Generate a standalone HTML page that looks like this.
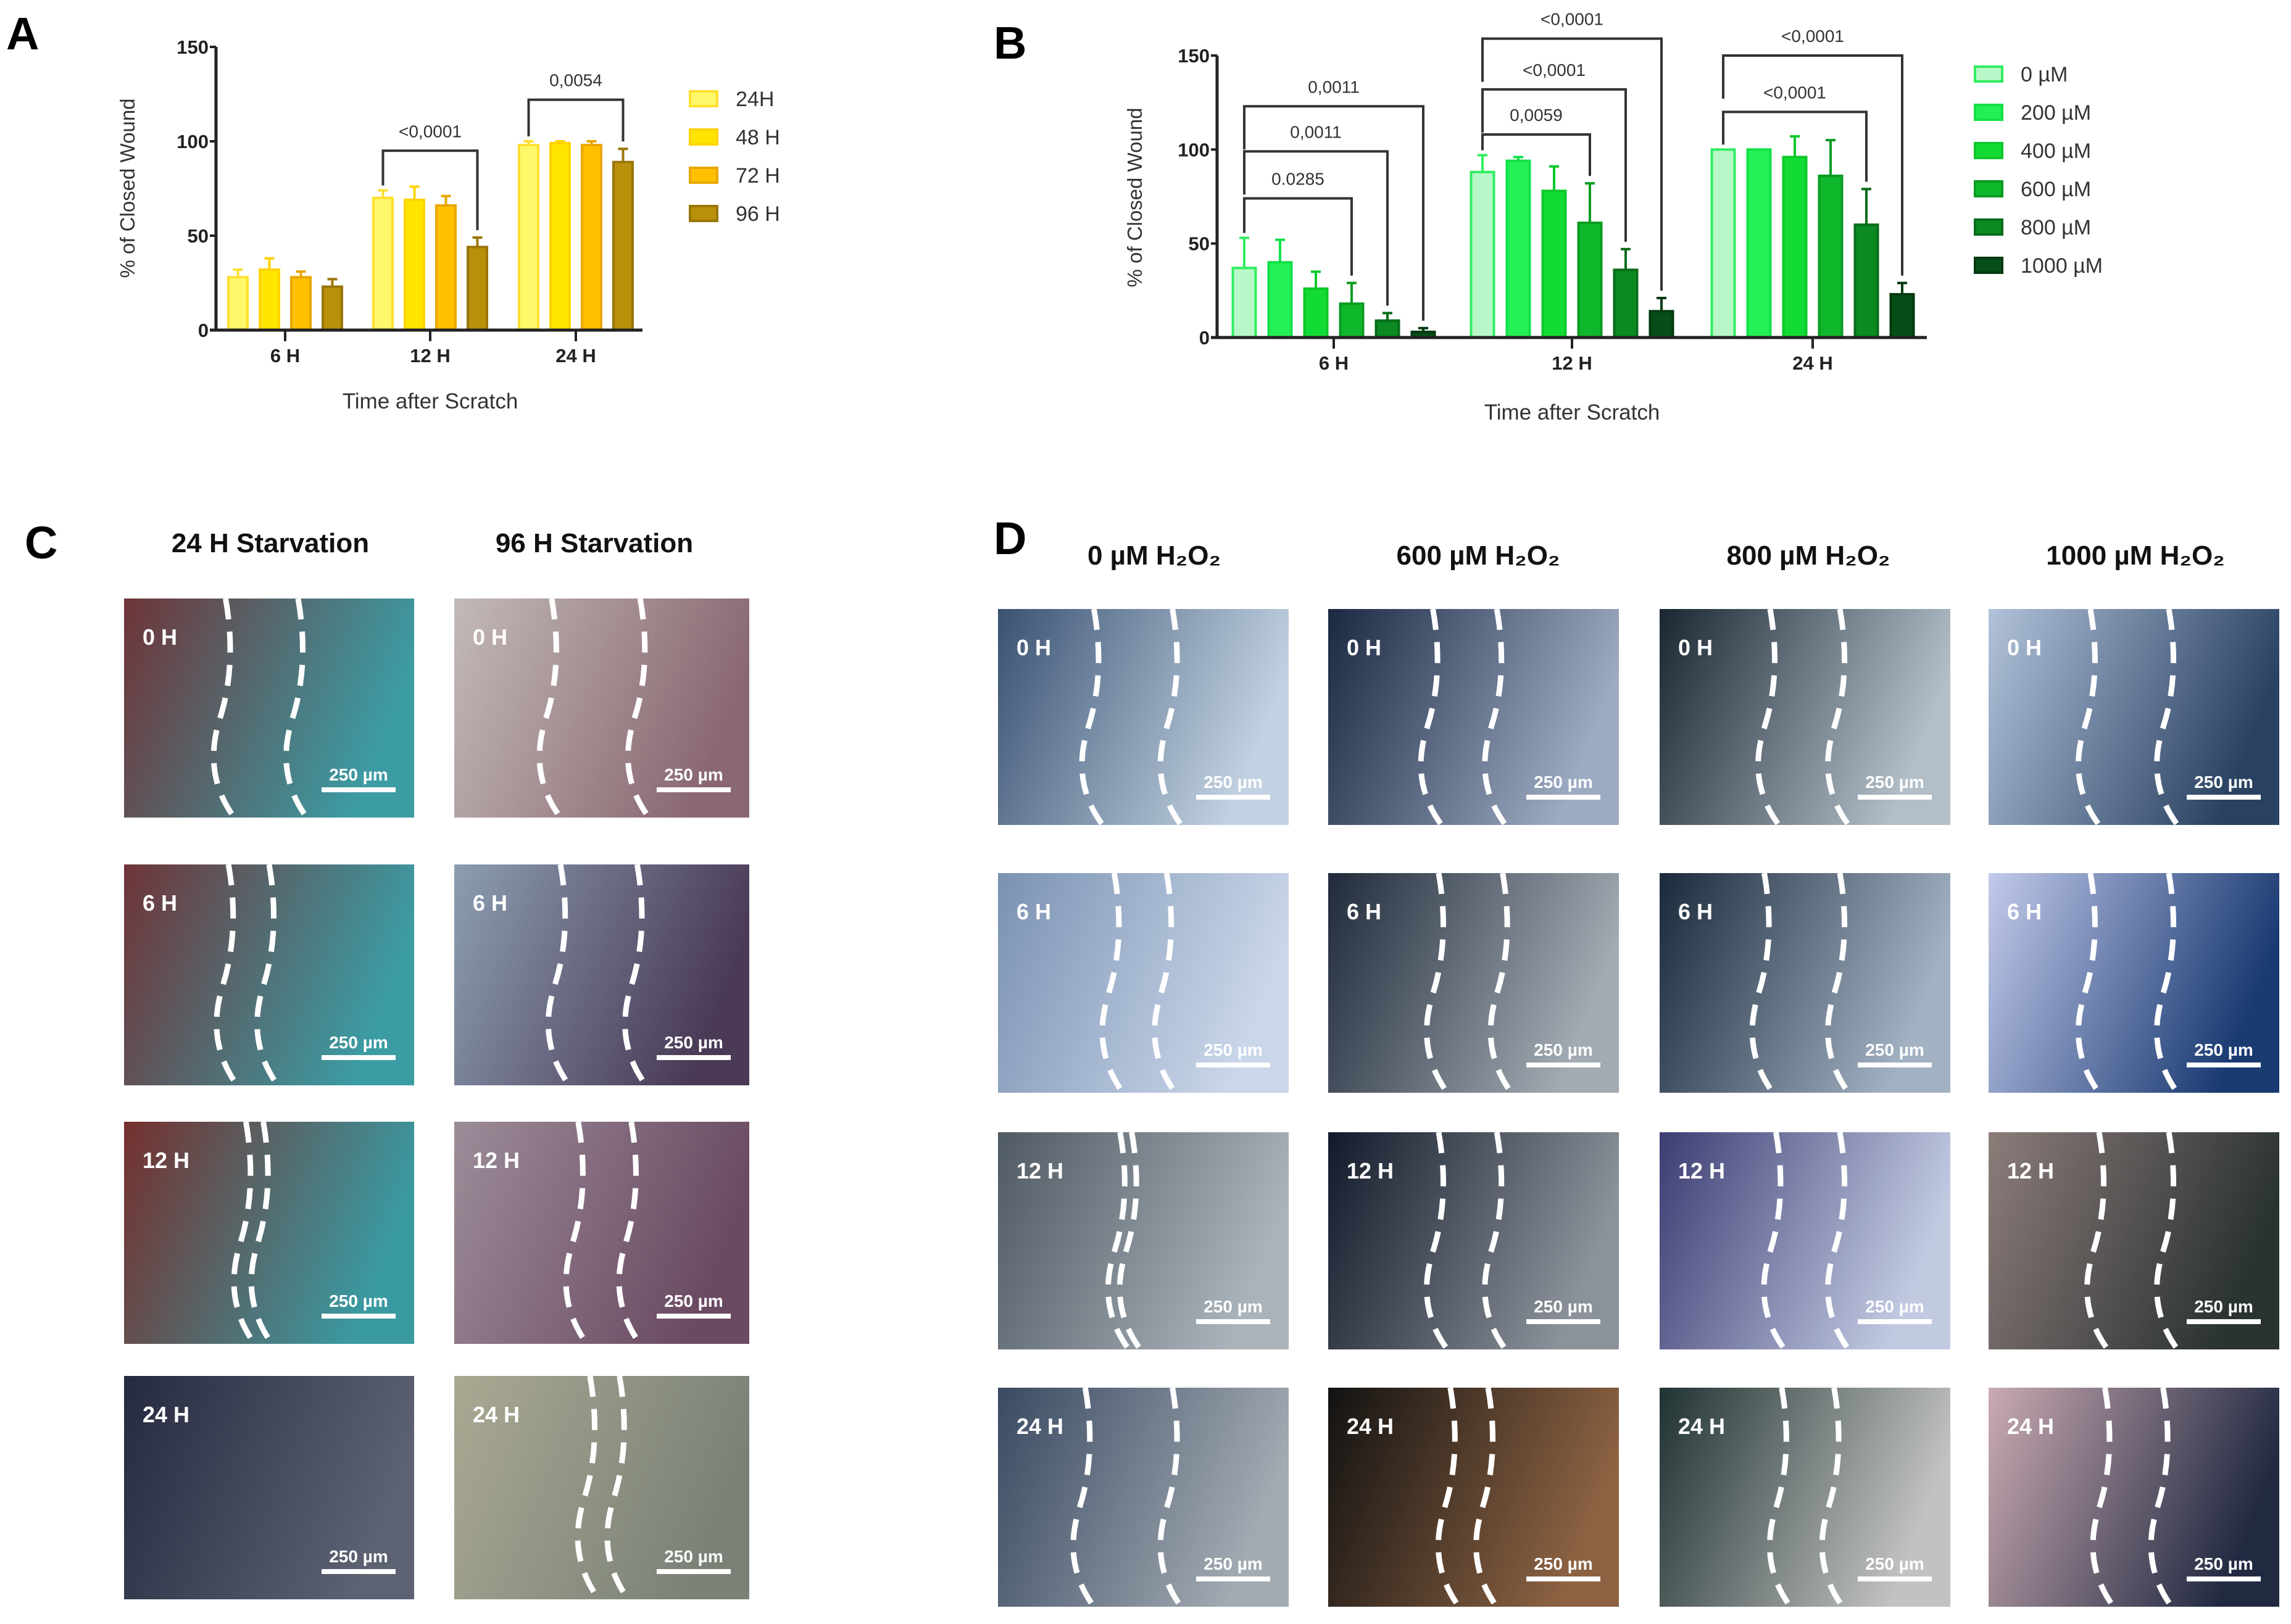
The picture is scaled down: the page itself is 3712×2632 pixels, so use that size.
<!DOCTYPE html>
<html><head><meta charset="utf-8"><style>
html,body{margin:0;padding:0;background:#fff;}
svg{display:block;font-family:"Liberation Sans",Arial,sans-serif;}
</style></head><body>
<svg id="fig" width="3712" height="2632" viewBox="0 0 3712 2632" xmlns="http://www.w3.org/2000/svg">
<rect width="3712" height="2632" fill="#fff"/>
<g id="chartA"></g>
<g id="chartB"></g>
<g id="panels"></g>
</svg>
<script>
const NS="http://www.w3.org/2000/svg";
function mk(parent,tag,attrs,text){const e=document.createElementNS(NS,tag);for(const k in attrs)e.setAttribute(k,attrs[k]);if(text!==undefined)e.textContent=text;parent.appendChild(e);return e;}

// ---------- Chart A data ----------
const catsA=["6 H","12 H","24 H"];
const seriesA=["24H","48 H","72 H","96 H"];
const valsA24=[28,70,98];
const valsA48=[32,69,99];
const valsA72=[28,66,98];
const valsA96=[23,44,89];
const errA24=[4,4,2];
const errA48=[6,7,1];
const errA72=[3,5,2];
const errA96=[4,5,7];
const ticksA=[0,50,100,150];
const sigA=[{g:1,from:0,to:3,level:95,label:"<0,0001"},{g:2,from:0,to:3,level:122,label:"0,0054"}];

// ---------- Chart B data ----------
const catsB=["6 H","12 H","24 H"];
const seriesB=["0 µM","200 µM","400 µM","600 µM","800 µM","1000 µM"];
const valsB0=[37,88,100];
const valsB200=[40,94,100];
const valsB400=[26,78,96];
const valsB600=[18,61,86];
const valsB800=[9,36,60];
const valsB1000=[3,14,23];
const errB0=[16,9,0];
const errB200=[12,2,0];
const errB400=[9,13,11];
const errB600=[11,21,19];
const errB800=[4,11,19];
const errB1000=[2,7,6];
const ticksB=[0,50,100,150];
const sigB=[
 {g:0,from:0,to:3,level:74,label:"0.0285"},{g:0,from:0,to:4,level:99,label:"0,0011"},{g:0,from:0,to:5,level:123,label:"0,0011"},
 {g:1,from:0,to:3,level:108,label:"0,0059"},{g:1,from:0,to:4,level:132,label:"<0,0001"},{g:1,from:0,to:5,level:159,label:"<0,0001"},
 {g:2,from:0,to:4,level:120,label:"<0,0001"},{g:2,from:0,to:5,level:150,label:"<0,0001"}];

function drawChart(g,cfg){
  const y=v=>cfg.y0-(v/150)*(cfg.y0-cfg.y150);
  const bx=(gi,si)=>cfg.centers[gi]+(si-(cfg.vals.length-1)/2)*cfg.step;
  cfg.vals.forEach((arr,si)=>{arr.forEach((v,gi)=>{
    const x=bx(gi,si);
    const r=mk(g,"rect",{x:x-cfg.bw/2,y:y(v),width:cfg.bw,height:cfg.y0-y(v),fill:cfg.fills[si],stroke:cfg.strokes[si],"stroke-width":4});
    
    
    const e=cfg.errs[si][gi];
    if(e>0){
      const l=mk(g,"path",{d:`M${x} ${y(v)} V${y(v+e)} M${x-8} ${y(v+e)} H${x+8}`,stroke:cfg.strokes[si],"stroke-width":4,fill:"none"});
      
      
    }
  });});
  const ax=mk(g,"path",{d:`M${cfg.ax} ${cfg.y150} V${cfg.y0} M${cfg.ax-10} ${cfg.y0} H${cfg.xend}`,stroke:"#222","stroke-width":5,fill:"none"});
  
  cfg.ticks.forEach(t=>{
    mk(g,"line",{x1:cfg.ax-10,x2:cfg.ax,y1:y(t),y2:y(t),stroke:"#222","stroke-width":4});
    const tl=mk(g,"text",{x:cfg.ax-12,y:y(t)+11,"text-anchor":"end","font-size":31,"font-weight":"bold",fill:"#222"},t);
    
  });
  cfg.cats.forEach((c,gi)=>{
    mk(g,"line",{x1:cfg.centers[gi],x2:cfg.centers[gi],y1:cfg.y0,y2:cfg.y0+18,stroke:"#222","stroke-width":4});
    const tl=mk(g,"text",{x:cfg.centers[gi],y:cfg.y0+52,"text-anchor":"middle","font-size":31,"font-weight":"bold",fill:"#222"},c);
    
  });
  const yt=mk(g,"text",{x:0,y:0,transform:`translate(${cfg.ytx},${cfg.yty}) rotate(-90)`,"text-anchor":"middle","font-size":33,fill:"#333"},"% of Closed Wound");
  
  const xt=mk(g,"text",{x:cfg.xtx,y:cfg.xty,"text-anchor":"middle","font-size":35,fill:"#333"},"Time after Scratch");
  
  cfg.sig.forEach(s=>{
    const x1=bx(s.g,s.from),x2=bx(s.g,s.to);
    const topY=y(s.level);
    const v1=cfg.vals[s.from][s.g]+cfg.errs[s.from][s.g],v2=cfg.vals[s.to][s.g]+cfg.errs[s.to][s.g];
    const yl=Math.min(topY+70,y(v1)-8), yr=y(v2)-12;
    const p=mk(g,"path",{d:`M${x1} ${yl} V${topY} H${x2} V${yr}`,stroke:"#333","stroke-width":4,fill:"none"});
    
    const t=mk(g,"text",{x:(x1+x2)/2,y:topY-22,"text-anchor":"middle","font-size":28,fill:"#333"},s.label);
    
  });
  cfg.series.forEach((s,si)=>{
    const ly=cfg.legY+si*cfg.legStep;
    const r=mk(g,"rect",{x:cfg.legX,y:ly,width:cfg.legW,height:cfg.legH,fill:cfg.fills[si],stroke:cfg.strokes[si],"stroke-width":4});
    
    const t=mk(g,"text",{x:cfg.legX+cfg.legW+30,y:ly+cfg.legH/2+12,"font-size":34,fill:"#333"},s);
    
  });
  const pl=mk(g,"text",{x:cfg.plx,y:cfg.ply,"font-size":74,"font-weight":"bold",fill:"#000"},cfg.panel);
  
}

drawChart(document.getElementById("chartA"),{
  prefix:"a",panel:"A",plx:10,ply:80,
  cats:catsA,series:seriesA,vals:[valsA24,valsA48,valsA72,valsA96],errs:[errA24,errA48,errA72,errA96],ticks:ticksA,sig:sigA,
  fills:["#fff86a","#ffe500","#ffc000","#b8900a"],strokes:["#ffe030","#ffd400","#e8a800","#9a7608"],
  y0:535,y150:76,ax:350,xend:1041,centers:[462,697,933],step:51,bw:31,
  ytx:218,yty:305,xtx:697,xty:662,legX:1118,legY:148,legStep:62,legW:44,legH:24
});
drawChart(document.getElementById("chartB"),{
  prefix:"b",panel:"B",plx:1610,ply:95,
  cats:catsB,series:seriesB,vals:[valsB0,valsB200,valsB400,valsB600,valsB800,valsB1000],errs:[errB0,errB200,errB400,errB600,errB800,errB1000],ticks:ticksB,sig:sigB,
  fills:["#b8f8c8","#22f055","#12dc34","#0fb82a","#0a8a20","#064d18"],strokes:["#30ee60","#12e048","#0cc82c","#0a9c22","#086c1a","#033a10"],
  y0:547,y150:90,ax:1972,xend:3122,centers:[2161,2547,2937],step:58,bw:37,
  ytx:1850,yty:320,xtx:2547,xty:680,legX:3200,legY:108,legStep:62,legW:44,legH:24
});

const P=document.getElementById("panels");
const defs=mk(document.getElementById("fig"),"defs",{});
function header(x,y,t,size){const e=mk(P,"text",{x:x,y:y,"text-anchor":"middle","font-size":size||44,"font-weight":"bold",fill:"#111"},t);return e;}
let gid=0;
function micro(x,y,w,h,c1,c2,label,lines){
  const id="gr"+(gid++);
  const lg=mk(defs,"linearGradient",{id:id,x1:0,y1:0,x2:1,y2:0.3});
  mk(lg,"stop",{offset:"0","stop-color":c1});
  mk(lg,"stop",{offset:"1","stop-color":c2});
  const g=mk(P,"g",{});
  
  
  mk(g,"rect",{x:x,y:y,width:w,height:h,fill:`url(#${id})`});
  lines.forEach(f=>{
    const a=x+w*f,b=a+w*0.04;
    mk(g,"path",{d:`M${a} ${y} Q${b} ${y+h*0.3} ${a-w*0.02} ${y+h*0.55} T${a+w*0.03} ${y+h}`,stroke:"#fff","stroke-width":9,"stroke-dasharray":"34 20",fill:"none"});
  });
  const t=mk(g,"text",{x:x+30,y:y+75,"font-size":36,"font-weight":"bold",fill:"#fff"},label);
  
  mk(g,"line",{x1:x+w-150,x2:x+w-30,y1:y+h-45,y2:y+h-45,stroke:"#fff","stroke-width":8});
  const s=mk(g,"text",{x:x+w-90,y:y+h-60,"text-anchor":"middle","font-size":28,"font-weight":"bold",fill:"#fff"},"250 µm");
  
}
const times=["0 H","6 H","12 H","24 H"];
let pc=mk(P,"text",{x:40,y:905,"font-size":74,"font-weight":"bold",fill:"#000"},"C");

header(438,895,"24 H Starvation");header(963,895,"96 H Starvation");
const cCols=[201,736],cW=[470,478];
const cRows=[[970,355],[1401,358],[1818,360],[2230,362]];
const cColors=[
 [["#6e3438","#3c9ca4"],["#6e3438","#3c9ca4"],["#74302e","#3a9aa2"],["#262a40","#5c6272"]],
 [["#c2bab6","#8a6872"],["#8c9eb2","#4a3a56"],["#9c8c98","#6a4a62"],["#aaa892","#7a8278"]]];
const cLines=[[[0.35,0.6],[0.36,0.5],[0.42,0.48],[]],[[0.33,0.63],[0.36,0.62],[0.42,0.6],[0.46,0.56]]];
cCols.forEach((cx,ci)=>cRows.forEach((r,ri)=>micro(cx,r[0],cW[ci],r[1],cColors[ci][ri][0],cColors[ci][ri][1],times[ri],cLines[ci][ri])));
let pd=mk(P,"text",{x:1610,y:898,"font-size":74,"font-weight":"bold",fill:"#000"},"D");

const dHead=["0 µM H₂O₂","600 µM H₂O₂","800 µM H₂O₂","1000 µM H₂O₂"];
const dCols=[1617,2152,2689,3222];
[1870,2395,2930,3460].forEach((hx,i)=>header(hx,915,dHead[i]));
const dRows=[[987,350],[1415,356],[1835,352],[2249,355]];
const dColors=[
 [["#3a5272","#c2d2e2"],["#7a92b2","#cad6ea"],["#505a62","#aab2ba"],["#3a4a62","#a2aab2"]],
 [["#1a2842","#9caac2"],["#202a3a","#a2aab2"],["#121a2a","#8c929a"],["#121212","#8c6242"]],
 [["#1a2632","#b2bec8"],["#1a2a3a","#a2b2c2"],["#3c3c72","#c2cae2"],["#203232","#c2c2c2"]],
 [["#b2c2da","#2a4262"],["#c2caea","#1a3a72"],["#8c7c7a","#2a3232"],["#caaab2","#222a42"]]];
const dLines=[[[0.33,0.6],[0.4,0.58],[0.42,0.46],[0.3,0.6]],[[0.36,0.58],[0.38,0.6],[0.38,0.58],[0.42,0.55]],[[0.38,0.62],[0.36,0.62],[0.4,0.62],[0.42,0.6]],[[0.35,0.62],[0.35,0.62],[0.38,0.62],[0.4,0.6]]];
dCols.forEach((cx,ci)=>dRows.forEach((r,ri)=>micro(cx,r[0],471,r[1],dColors[ci][ri][0],dColors[ci][ri][1],times[ri],dLines[ci][ri])));
</script>
</body></html>
